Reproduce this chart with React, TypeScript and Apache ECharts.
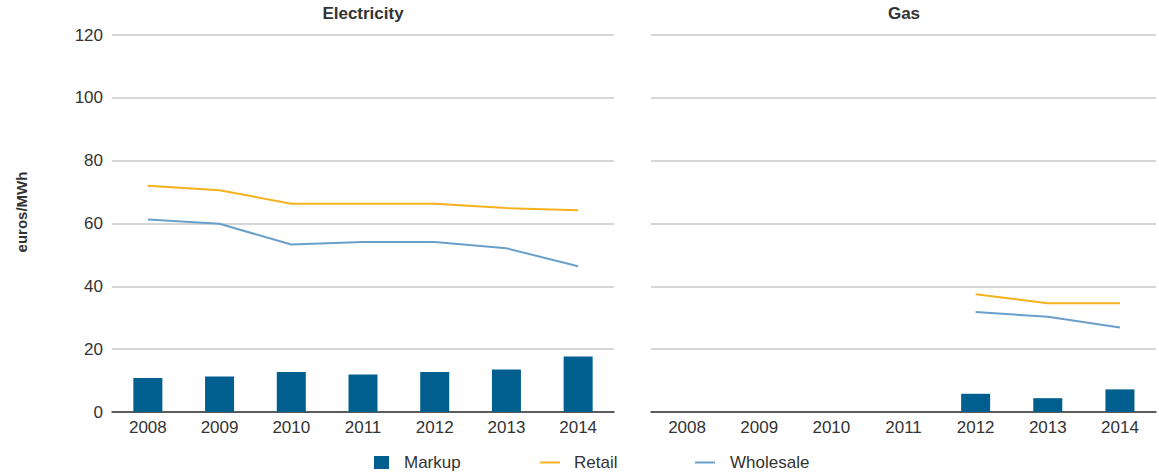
import React, { useEffect, useRef } from "react";
import * as echarts from "echarts";

const years = ["2008", "2009", "2010", "2011", "2012", "2013", "2014"];
const yTicks = [0, 20, 40, 60, 80, 100, 120];

const elecMarkup = [10.8, 11.3, 12.7, 11.9, 12.7, 13.5, 17.7];
const elecRetail = [72.0, 70.6, 66.3, 66.3, 66.3, 64.9, 64.2];
const elecWholesale = [61.3, 59.9, 53.3, 54.1, 54.1, 52.1, 46.4];

const gasMarkup = [null, null, null, null, 5.8, 4.4, 7.2];
const gasRetail = [null, null, null, null, 37.5, 34.6, 34.6];
const gasWholesale = [null, null, null, null, 31.8, 30.3, 26.9];

const panelTitles = ["Electricity", "Gas"];
const yAxisTitle = "euros/MWh";

const FONT = "'Liberation Sans', Arial, Helvetica, sans-serif";
const TEXT = "#333333";
const BAR = "#005f8e";
const RETAIL = "#f6b21e";
const WHOLESALE = "#6a9fca";

export default function App() {
  const ref = useRef<HTMLDivElement>(null);

  useEffect(() => {
    if (!ref.current) return;
    const chart = echarts.init(ref.current, undefined, { renderer: "svg" });

    const yAxisBase = (showLabels: boolean, gi: number) => ({
      type: "value",
      gridIndex: gi,
      min: yTicks[0],
      max: yTicks[yTicks.length - 1],
      interval: yTicks[1] - yTicks[0],
      axisLine: { show: false },
      axisTick: { show: false },
      axisLabel: {
        show: showLabels,
        fontSize: 17,
        color: TEXT,
        fontFamily: FONT,
        margin: 9,
      },
      splitLine: { lineStyle: { color: "#c9c9c9", width: 1.5 } },
    });

    const xAxisBase = (gi: number) => ({
      type: "category",
      gridIndex: gi,
      data: years,
      axisLine: { lineStyle: { color: "#333333", width: 1.5 } },
      axisTick: { show: false },
      axisLabel: { fontSize: 17, color: TEXT, fontFamily: FONT, margin: 7 },
    });

    const lineStyle = (c: string) => ({
      type: "line",
      symbol: "none",
      lineStyle: { color: c, width: 2 },
      itemStyle: { color: c },
    });

    const legendText = (pad: number) => ({
      fontSize: 17,
      color: TEXT,
      fontFamily: FONT,
      padding: [0, 0, 0, pad],
    });

    chart.setOption({
      animation: false,
      grid: [
        { left: 112, right: 545, top: 35, bottom: 64 },
        { left: 651, right: 3, top: 35, bottom: 64 },
      ],
      xAxis: [xAxisBase(0), xAxisBase(1)],
      yAxis: [yAxisBase(true, 0), yAxisBase(false, 1)],
      legend: [
        {
          left: 369,
          top: 449,
          itemWidth: 15,
          itemHeight: 13,
          data: [{ name: "Markup", icon: "rect" }],
          textStyle: legendText(10),
        },
        {
          left: 535,
          top: 449,
          itemWidth: 20,
          itemHeight: 2,
          data: [{ name: "Retail", icon: "path://M0 0H20V2H0Z" }],
          textStyle: legendText(9),
        },
        {
          left: 690,
          top: 449,
          itemWidth: 20,
          itemHeight: 2,
          data: [{ name: "Wholesale", icon: "path://M0 0H20V2H0Z" }],
          textStyle: legendText(10),
        },
      ],
      graphic: [
        {
          type: "text",
          x: 363,
          y: 13,
          style: {
            text: panelTitles[0],
            font: `bold 17px ${FONT}`,
            fill: TEXT,
            align: "center",
            verticalAlign: "middle",
          },
        },
        {
          type: "text",
          x: 904,
          y: 13,
          style: {
            text: panelTitles[1],
            font: `bold 17px ${FONT}`,
            fill: TEXT,
            align: "center",
            verticalAlign: "middle",
          },
        },
        {
          type: "text",
          x: 21,
          y: 212,
          rotation: Math.PI / 2,
          style: {
            text: yAxisTitle,
            font: `bold 15px ${FONT}`,
            fill: TEXT,
            align: "center",
            verticalAlign: "middle",
          },
        },
      ],
      series: [
        {
          name: "Markup",
          type: "bar",
          xAxisIndex: 0,
          yAxisIndex: 0,
          barWidth: 29,
          itemStyle: { color: BAR },
          data: elecMarkup,
        },
        { name: "Retail", xAxisIndex: 0, yAxisIndex: 0, data: elecRetail, ...lineStyle(RETAIL) },
        { name: "Wholesale", xAxisIndex: 0, yAxisIndex: 0, data: elecWholesale, ...lineStyle(WHOLESALE) },
        {
          name: "Markup",
          type: "bar",
          xAxisIndex: 1,
          yAxisIndex: 1,
          barWidth: 29,
          itemStyle: { color: BAR },
          data: gasMarkup,
        },
        { name: "Retail", xAxisIndex: 1, yAxisIndex: 1, data: gasRetail, ...lineStyle(RETAIL) },
        { name: "Wholesale", xAxisIndex: 1, yAxisIndex: 1, data: gasWholesale, ...lineStyle(WHOLESALE) },
      ],
    });

    return () => chart.dispose();
  }, []);

  return (
    <div
      ref={ref}
      style={{ position: "absolute", left: 0, top: 0, width: 1159, height: 476, background: "#ffffff" }}
    />
  );
}
